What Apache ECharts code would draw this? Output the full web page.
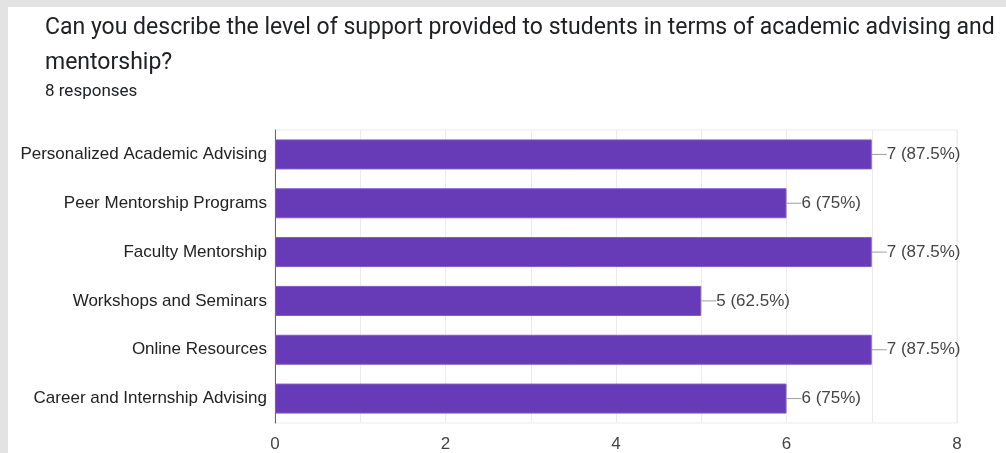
<!DOCTYPE html>
<html>
<head>
<meta charset="utf-8">
<script src="https://cdn.jsdelivr.net/npm/echarts@6/dist/echarts.min.js"></script>
<style>
  html, body { margin: 0; padding: 0; background: #fff; }
  #chart { width: 1006px; height: 453px; }
</style>
</head>
<body>
<div id="chart"></div>
<script>
// Survey question and answer counts
const questionText = 'Can you describe the level of support provided to students in terms of academic advising and\nmentorship?';
const responseCount = 8;
const categories = [
  'Personalized Academic Advising',
  'Peer Mentorship Programs',
  'Faculty Mentorship',
  'Workshops and Seminars',
  'Online Resources',
  'Career and Internship Advising'
];
const counts = [7, 6, 7, 5, 7, 6];
const axisTicks = [0, 2, 4, 6, 8];

const chart = echarts.init(document.getElementById('chart'), null, { renderer: 'canvas' });

function pct(v) {
  const p = Math.round(v / responseCount * 1000) / 10;
  return p + '%';
}

chart.setOption({
  backgroundColor: '#ffffff',
  animation: false,
  graphic: [
    { type: 'rect', z: -1, shape: { x: 0, y: 0, width: 1006, height: 7 }, style: { fill: '#e3e3e3' } },
    { type: 'rect', z: -1, shape: { x: 0, y: 0, width: 8, height: 453 }, style: { fill: '#e3e3e3' } }
  ],
  title: [
    {
      text: questionText,
      left: 40,
      top: 6,
      textStyle: { fontFamily: 'Roboto', fontSize: 23, fontWeight: 'normal', color: '#202124', lineHeight: 35 }
    },
    {
      text: responseCount + ' responses',
      left: 40,
      top: 78,
      textStyle: { fontFamily: 'Roboto', fontSize: 17, fontWeight: 'normal', color: '#202124' }
    }
  ],
  grid: {
    left: 275, right: 49, top: 130, bottom: 30,
    show: true, borderColor: '#ebebeb', borderWidth: 1
  },
  xAxis: {
    type: 'value',
    min: axisTicks[0],
    max: axisTicks[axisTicks.length - 1],
    interval: 1,
    axisLine: { show: false },
    axisTick: { show: false },
    splitLine: { lineStyle: { color: '#ebebeb', width: 1 } },
    axisLabel: {
      margin: 13,
      fontFamily: 'Liberation Sans',
      fontSize: 17,
      color: '#444444',
      formatter: v => axisTicks.indexOf(v) >= 0 ? String(v) : ''
    }
  },
  yAxis: {
    type: 'category',
    inverse: true,
    data: categories,
    axisLine: { show: true, lineStyle: { color: '#666666', width: 1 } },
    axisTick: { show: false },
    axisLabel: { margin: 8, fontFamily: 'Liberation Sans', fontSize: 17, color: '#222222' }
  },
  series: [{
    type: 'bar',
    data: counts,
    barWidth: 30,
    itemStyle: { color: '#673ab7', borderColor: '#7e5bc4', borderWidth: 1 },
    label: {
      show: true,
      position: 'right',
      distance: 0,
      formatter: p => '{ln|}{t|' + p.value + ' (' + pct(p.value) + ')}',
      rich: {
        ln: { width: 15, height: 1, backgroundColor: '#9e9e9e' },
        t: { fontFamily: 'Liberation Sans', fontSize: 17, color: '#444444' }
      }
    }
  }]
});
</script>
</body>
</html>
